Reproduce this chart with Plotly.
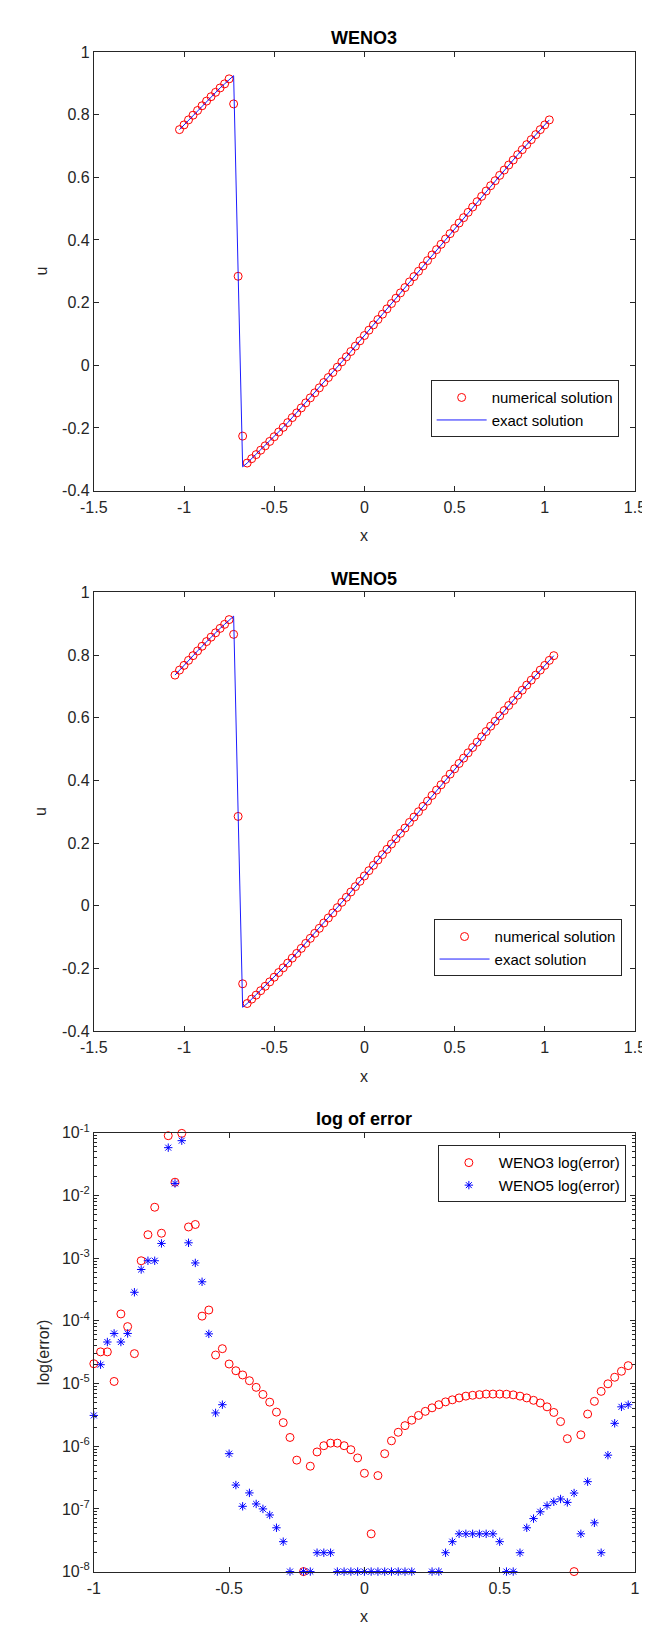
import numpy as np
import plotly.graph_objects as go

# ---------------- data ----------------
DX = 0.025
x_weno3 = np.round(-1.025 + DX * np.arange(83), 4)   # WENO3 grid (with ghost cells)
x_weno5 = np.round(-1.05 + DX * np.arange(85), 4)    # WENO5 grid (with ghost cells)
x_err = np.round(-1.0 + DX * np.arange(80), 4)

# right branch of the profile, x = -0.65 ... 1.025
right_branch = [-0.312, -0.298, -0.285, -0.271, -0.257, -0.243, -0.228, -0.213, -0.198, -0.183,
                -0.167, -0.152, -0.136, -0.120, -0.104, -0.088, -0.072, -0.055, -0.039, -0.023,
                -0.006, 0.011, 0.027, 0.044, 0.061, 0.078, 0.095, 0.112, 0.129, 0.146,
                0.163, 0.180, 0.197, 0.214, 0.231, 0.248, 0.266, 0.283, 0.300, 0.317,
                0.334, 0.352, 0.369, 0.386, 0.403, 0.420, 0.437, 0.454, 0.471, 0.488,
                0.505, 0.522, 0.539, 0.556, 0.573, 0.589, 0.606, 0.623, 0.639, 0.655,
                0.672, 0.688, 0.704, 0.720, 0.736, 0.752, 0.767, 0.783]

u_weno3 = ([0.752, 0.767, 0.783, 0.798, 0.813, 0.828, 0.843, 0.857, 0.871, 0.885, 0.898, 0.914,
            0.834, 0.284, -0.226] + right_branch)
u_exact3 = ([0.752, 0.767, 0.783, 0.798, 0.813, 0.828, 0.843, 0.857, 0.871, 0.885, 0.898, 0.912,
             0.924, 0.295, -0.324] + right_branch)
u_weno5 = ([0.736, 0.752, 0.767, 0.783, 0.798, 0.813, 0.828, 0.843, 0.857, 0.871, 0.885, 0.898, 0.913,
            0.866, 0.285, -0.249] + right_branch + [0.798])
u_exact5 = ([0.736, 0.752, 0.767, 0.783, 0.798, 0.813, 0.828, 0.843, 0.857, 0.871, 0.885, 0.898, 0.912,
             0.924, 0.295, -0.324] + right_branch + [0.798])

err_weno3 = [2.07e-5, 3.2e-5, 3.2e-5, 1.08e-5, 1.29e-4, 8.1e-5, 3.0e-5, 9.1e-4, 2.37e-3, 6.5e-3,
             2.5e-3, 0.09, 0.0163, 0.098, 3.15e-3, 3.45e-3, 1.19e-4, 1.49e-4, 2.85e-5, 3.6e-5,
             2.05e-5, 1.6e-5, 1.37e-5, 1.11e-5, 8.7e-6, 6.7e-6, 5.05e-6, 3.5e-6, 2.38e-6, 1.38e-6,
             6.0e-7, 1e-8, 4.8e-7, 8.1e-7, 1.02e-6, 1.12e-6, 1.12e-6, 1.02e-6, 8.8e-7, 6.5e-7,
             3.7e-7, 4e-8, 3.4e-7, 7.6e-7, 1.22e-6, 1.67e-6, 2.13e-6, 2.6e-6, 3.1e-6, 3.6e-6,
             4.1e-6, 4.6e-6, 5.1e-6, 5.5e-6, 5.9e-6, 6.3e-6, 6.5e-6, 6.65e-6, 6.8e-6, 6.8e-6,
             6.8e-6, 6.75e-6, 6.6e-6, 6.3e-6, 5.9e-6, 5.4e-6, 4.9e-6, 4.25e-6, 3.46e-6, 2.47e-6,
             1.32e-6, 1e-8, 1.52e-6, 3.26e-6, 5.2e-6, 7.5e-6, 9.9e-6, 1.26e-5, 1.57e-5, 1.93e-5]

err_weno5 = [3.1e-6, 2.0e-5, 4.6e-5, 6.3e-5, 4.6e-5, 6.3e-5, 2.86e-4, 6.6e-4, 9.1e-4, 9.1e-4,
             1.72e-3, 0.058, 0.0156, 0.075, 1.76e-3, 8.4e-4, 4.2e-4, 6.2e-5, 3.4e-6, 4.6e-6,
             7.6e-7, 2.4e-7, 1.1e-7, 1.8e-7, 1.2e-7, 1.0e-7, 8e-8, 5e-8, 3e-8, 1e-8,
             None, 1e-8, 1e-8, 2e-8, 2e-8, 2e-8, 1e-8, 1e-8, 1e-8, 1e-8,
             1e-8, 1e-8, 1e-8, 1e-8, 1e-8, 1e-8, 1e-8, 1e-8, None, None,
             1e-8, 1e-8, 2e-8, 3e-8, 4e-8, 4e-8, 4e-8, 4e-8, 4e-8, 4e-8,
             3e-8, 1e-8, 1e-8, 2e-8, 5e-8, 7e-8, 9e-8, 1.13e-7, 1.3e-7, 1.44e-7,
             1.27e-7, 1.79e-7, 4e-8, 2.72e-7, 6e-8, 2e-8, 7.2e-7, 2.32e-6, 4.25e-6, 4.6e-6]

u_ticks = [-0.4, -0.2, 0, 0.2, 0.4, 0.6, 0.8, 1]
u_ticktext = ["-0.4", "-0.2", "0", "0.2", "0.4", "0.6", "0.8", "1"]
x_ticks = [-1.5, -1, -0.5, 0, 0.5, 1, 1.5]
x_ticktext = ["-1.5", "-1", "-0.5", "0", "0.5", "1", "1.5"]
xe_ticks = [-1, -0.5, 0, 0.5, 1]
xe_ticktext = ["-1", "-0.5", "0", "0.5", "1"]
err_ticks = [1e-8, 1e-7, 1e-6, 1e-5, 1e-4, 1e-3, 1e-2, 1e-1]
err_ticktext = ["10<sup>-8</sup>", "10<sup>-7</sup>", "10<sup>-6</sup>", "10<sup>-5</sup>",
                "10<sup>-4</sup>", "10<sup>-3</sup>", "10<sup>-2</sup>", "10<sup>-1</sup>"]
err_minor = [d * 10.0 ** e for e in range(-8, -1) for d in range(2, 10)]

# ---------------- figure ----------------
W, H = 650, 1627
FONT = "Liberation Sans, Arial, sans-serif"
AX = "#262626"
RED = "#ff0000"
BLUE = "#0000ff"

def py(px):
    return 1 - px / H

XDOM = [74.7 / W, 637.5 / W]
tops = [33.3, 580.5, 1127.7]
PH = 444.2

fig = go.Figure()

circ = dict(symbol="circle-open", size=8, color=RED, line=dict(width=1, color=RED))

fig.add_trace(go.Scatter(x=x_weno3, y=u_weno3, mode="markers", marker=circ,
                         name="numerical solution", xaxis="x", yaxis="y", legend="legend",
                         cliponaxis=False))
fig.add_trace(go.Scatter(x=x_weno3, y=u_exact3, mode="lines", line=dict(color=BLUE, width=0.9),
                         name="exact solution", xaxis="x", yaxis="y", legend="legend"))
fig.add_trace(go.Scatter(x=x_weno5, y=u_weno5, mode="markers", marker=circ,
                         name="numerical solution", xaxis="x2", yaxis="y2", legend="legend2",
                         cliponaxis=False))
fig.add_trace(go.Scatter(x=x_weno5, y=u_exact5, mode="lines", line=dict(color=BLUE, width=0.9),
                         name="exact solution", xaxis="x2", yaxis="y2", legend="legend2"))
fig.add_trace(go.Scatter(x=x_err, y=err_weno3, mode="markers", marker=circ,
                         name="WENO3 log(error)", xaxis="x3", yaxis="y3", legend="legend3",
                         cliponaxis=False))
fig.add_trace(go.Scatter(x=x_err, y=err_weno5, mode="markers",
                         marker=dict(symbol="asterisk-open", size=7, color=BLUE,
                                     line=dict(width=1, color=BLUE)),
                         name="WENO5 log(error)", xaxis="x3", yaxis="y3", legend="legend3",
                         cliponaxis=False))

TICKSIZE = 16
common = dict(showline=True, linecolor=AX, linewidth=1, mirror="ticks", ticks="inside",
              ticklen=5, tickcolor=AX, tickwidth=1, showgrid=False, zeroline=False,
              tickmode="array")

layout = dict(width=W, height=H, margin=dict(l=0, r=0, t=0, b=0),
              paper_bgcolor="white", plot_bgcolor="white", showlegend=True,
              font=dict(family=FONT, color=AX, size=TICKSIZE))

for i, t in enumerate(tops):
    sfx = "" if i == 0 else str(i + 1)
    ydom = [py(t + PH), py(t)]
    if i < 2:
        layout["xaxis" + sfx] = dict(common, domain=XDOM, range=[-1.5, 1.5], tickvals=x_ticks,
                                     ticktext=x_ticktext, anchor="y" + sfx)
        layout["yaxis" + sfx] = dict(common, domain=ydom, range=[-0.4, 1], tickvals=u_ticks,
                                     ticktext=u_ticktext, anchor="x" + sfx)
    else:
        layout["xaxis" + sfx] = dict(common, domain=XDOM, range=[-1, 1], tickvals=xe_ticks,
                                     ticktext=xe_ticktext, anchor="y" + sfx)
        layout["yaxis" + sfx] = dict(common, domain=ydom, type="log", range=[-8, -1],
                                     tickvals=err_ticks, ticktext=err_ticktext, anchor="x" + sfx,
                                     minor=dict(tickmode="array", tickvals=err_minor, ticks="inside",
                                                ticklen=3, tickcolor=AX, showgrid=False))

legfont = dict(family=FONT, size=15, color="black")
legcommon = dict(xanchor="left", yanchor="top", bordercolor=AX, borderwidth=1, bgcolor="white",
                 font=legfont, itemwidth=50, tracegroupgap=0, xref="paper", yref="paper")
layout["legend"] = dict(legcommon, x=425 / W, y=py(365.7))
layout["legend2"] = dict(legcommon, x=428 / W, y=py(911.5))
layout["legend3"] = dict(legcommon, x=432.5 / W, y=py(1140.4))

ann = []
titles = ["WENO3", "WENO5", "log of error"]
for i, t in enumerate(tops):
    ann.append(dict(text="<b>%s</b>" % titles[i], x=356 / W, y=py(t - 13.7), xref="paper", yref="paper",
                    showarrow=False, xanchor="center", yanchor="middle",
                    font=dict(family=FONT, size=18, color="black")))
    ann.append(dict(text="x", x=356 / W, y=py(t + PH + 45.5), xref="paper", yref="paper",
                    showarrow=False, xanchor="center", yanchor="middle",
                    font=dict(family=FONT, size=16, color=AX)))
    ann.append(dict(text="u" if i < 2 else "log(error)", x=(20 if i < 2 else 22) / W, y=py(t + PH / 2),
                    xref="paper", yref="paper", showarrow=False, textangle=-90,
                    xanchor="center", yanchor="middle",
                    font=dict(family=FONT, size=16, color=AX)))
layout["annotations"] = ann

fig.update_layout(**layout)
fig.update_xaxes(tickfont=dict(family=FONT, size=TICKSIZE, color=AX), ticklabelstandoff=2)
fig.update_yaxes(tickfont=dict(family=FONT, size=TICKSIZE, color=AX))
fig.write_html("out.html")
